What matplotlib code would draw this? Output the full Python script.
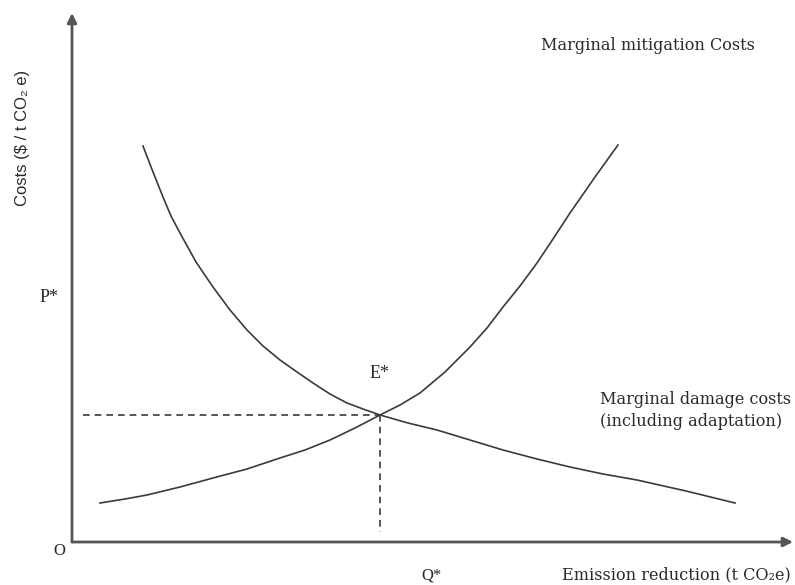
import matplotlib
matplotlib.use('Agg')
import matplotlib.pyplot as plt

# === DATA (arbitrary units from the origin) ===
mitig_x = [28, 53, 75, 108, 141, 175, 208, 233, 258, 283, 308, 328, 348, 373,
           398, 415, 431, 448, 465, 481, 498, 523, 546]
mitig_y = [39, 43, 47, 55, 64, 73, 84, 92, 102, 114, 127, 137, 149, 170,
           195, 214, 235, 256, 279, 303, 329, 365, 397]

damage_x = [71, 81, 91, 99, 108, 124, 141, 158, 175, 191, 208, 225, 241, 258,
            275, 291, 308, 336, 365, 398, 431, 465, 498, 531, 565, 614, 663]
damage_y = [396, 370, 345, 326, 309, 280, 255, 232, 212, 196, 182, 170, 159, 148,
            139, 133, 127, 119, 112, 102, 92, 83, 75, 68, 62, 51, 39]

eq_x, eq_y = 308, 127
x_max, y_max = 721, 529

# === FIGURE ===
fig = plt.figure(figsize=(7.95, 5.85), dpi=100)
ax = fig.add_axes([72 / 795, 43 / 585, 721 / 795, 529 / 585])
ax.set_xlim(0, x_max)
ax.set_ylim(0, y_max)
ax.set_axis_off()

axis_col = '#555555'
curve_col = '#3a3a3a'

# axes with arrows
for tip in [(x_max, 0), (0, y_max)]:
    ax.annotate('', xy=tip, xytext=(0, 0), xycoords='data',
                arrowprops=dict(arrowstyle='-|>', color=axis_col, lw=2,
                                mutation_scale=14, shrinkA=0, shrinkB=0))

# curves
ax.plot(mitig_x, mitig_y, color=curve_col, lw=1.2, solid_joinstyle='round')
ax.plot(damage_x, damage_y, color=curve_col, lw=1.2, solid_joinstyle='round')

# dashed guides
ax.plot([11, eq_x], [eq_y, eq_y], color=curve_col, lw=1.2, ls=(0, (4, 3)))
ax.plot([eq_x, eq_x], [eq_y, 10], color=curve_col, lw=1.2, ls=(0, (4, 3)))

serif = 'DejaVu Serif'
lab = 'Liberation Serif'
tcol = '#2a2a2a'
fs = 11.6

ax.text(576, 497, 'Marginal mitigation Costs', family=serif, fontsize=fs,
        color=tcol, ha='center', va='center')
ax.text(528, 142, 'Marginal damage costs', family=serif, fontsize=fs,
        color=tcol, ha='left', va='center')
ax.text(528, 120, '(including adaptation)', family=serif, fontsize=fs,
        color=tcol, ha='left', va='center')
ax.text(604, -33, 'Emission reduction (t CO\u2082e)', family=serif, fontsize=fs,
        color=tcol, ha='center', va='center', clip_on=False)

ax.text(eq_x, 169, 'E*', family=lab, fontsize=13, color=tcol,
        ha='center', va='center')
ax.text(-23, 244, 'P*', family=lab, fontsize=13, color=tcol,
        ha='center', va='center', clip_on=False)
ax.text(-13, -9, 'O', family=lab, fontsize=12, color=tcol,
        ha='center', va='center', clip_on=False)
ax.text(360, -33, 'Q*', family=lab, fontsize=12, color=tcol,
        ha='center', va='center', clip_on=False)

ax.text(-49, 404, 'Costs ($ / t CO\u2082 e)', family='Liberation Sans', fontsize=12,
        color=tcol, ha='center', va='center', rotation=90, clip_on=False)

fig.savefig('out.png', dpi=100, facecolor='white')
